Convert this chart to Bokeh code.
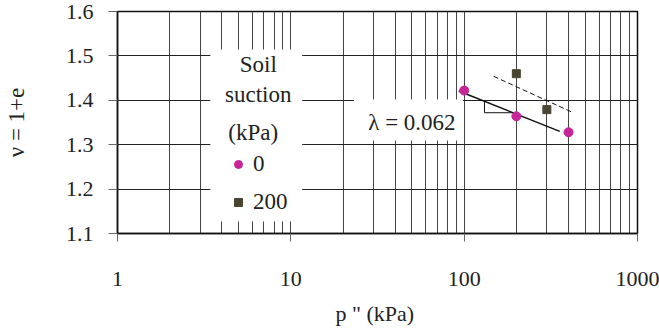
import math
from bokeh.plotting import figure
from bokeh.models import (FixedTicker, Label, Legend, LegendItem,
                          NumeralTickFormatter, PrintfTickFormatter)
from bokeh.embed import file_html
from bokeh.resources import INLINE

# ---- data ----
suction_0_p = [100, 200, 400]
suction_0_v = [1.422, 1.364, 1.328]
suction_200_p = [200, 300]
suction_200_v = [1.460, 1.379]
fit_0_p = [93, 356]
fit_0_v = [1.421, 1.330]
fit_200_p = [148, 426]
fit_200_v = [1.454, 1.372]
slope_p = [131, 131, 192]
slope_v = [1.396, 1.372, 1.372]
x_ticks = [1, 10, 100, 1000]
y_ticks = [1.1, 1.2, 1.3, 1.4, 1.5, 1.6]
series_names = ["0", "200"]
legend_title = ["Soil", "suction", "(kPa)"]
lambda_text = "λ = 0.062"
x_label = "p  \" (kPa)"
y_label = "ν = 1+e"

# ---- layout ----
W, H = 659, 330
L, R, T, B = 116, 22, 11, 97
FW, FH = W - L - R, H - T - B
XR = (1, 1000)
YR = (1.1, 1.6)
FONT = "Liberation Serif"
PINK = "#C62497"
OLIVE = "#4A4530"


def px_x(sx):
    span = math.log10(XR[1]) - math.log10(XR[0])
    return 10 ** (math.log10(XR[0]) + (sx - L) / FW * span)


def px_y(sy):
    return YR[1] - (sy - T) / FH * (YR[1] - YR[0])


p = figure(width=W, height=H, x_axis_type="log", x_range=XR, y_range=YR,
           min_border_left=L, min_border_right=R, min_border_top=T,
           min_border_bottom=B, toolbar_location=None, output_backend="svg")
p.background_fill_color = "white"
p.border_fill_color = "white"
p.outline_line_color = "#111111"
p.outline_line_width = 1.5

minor = [m * t for t in x_ticks[:-1] for m in range(2, 10)]
p.xaxis.ticker = FixedTicker(ticks=x_ticks, minor_ticks=minor)
p.yaxis.ticker = FixedTicker(ticks=y_ticks)
p.xaxis.formatter = NumeralTickFormatter(format="0")
p.yaxis.formatter = PrintfTickFormatter(format="%.1f")

for ax in (p.xaxis, p.yaxis):
    ax.axis_line_color = "#111111"
    ax.axis_line_width = 1.5
    ax.major_tick_line_color = "#666666"
    ax.major_tick_in = 0
    ax.minor_tick_in = 0
    ax.minor_tick_out = 0
    ax.major_label_text_font = FONT
    ax.major_label_text_font_size = "22px"
    ax.major_label_text_color = "#222222"
    ax.axis_label_text_font = FONT
    ax.axis_label_text_font_style = "normal"
    ax.axis_label_text_color = "#222222"
p.xaxis.major_tick_out = 8
p.yaxis.major_tick_out = 9
p.xaxis.major_label_standoff = 30
p.yaxis.major_label_standoff = 15

p.yaxis.axis_label = y_label
p.yaxis.axis_label_text_font_size = "23px"
p.yaxis.axis_label_standoff = 34

p.xaxis.axis_label = x_label
p.xaxis.axis_label_text_font_size = "22px"
p.xaxis.axis_label_standoff = 12

p.xgrid.grid_line_color = "#444444"
p.xgrid.minor_grid_line_color = "#444444"
p.ygrid.grid_line_color = "#222222"

# white backing boxes (legend panel and slope label)
p.quad(left=px_x(209), right=px_x(301), top=px_y(49), bottom=px_y(221),
       fill_color="white", line_color=None)
p.quad(left=px_x(353), right=px_x(462), top=px_y(99), bottom=px_y(140),
       fill_color="white", line_color=None)

# fitted lines and slope triangle
p.line(fit_0_p, fit_0_v, line_color="#111111", line_width=1.5)
p.line(fit_200_p, fit_200_v, line_color="#111111", line_width=1,
       line_dash="5 3")
p.line(slope_p, slope_v, line_color="#111111", line_width=1)

r0 = p.scatter(suction_0_p, suction_0_v, marker="circle", size=9,
               fill_color=PINK, line_color=PINK)
r1 = p.scatter(suction_200_p, suction_200_v, marker="square", size=8,
               fill_color=OLIVE, line_color=OLIVE)

legend = Legend(items=[LegendItem(label=series_names[0], renderers=[r0]),
                       LegendItem(label=series_names[1], renderers=[r1])],
                location=(111, 16), padding=0, spacing=8, margin=0,
                glyph_width=20, glyph_height=30, label_height=30,
                label_standoff=5, background_fill_alpha=0,
                border_line_color=None, label_text_font=FONT,
                label_text_font_size="23px", label_text_color="#222222")
p.add_layout(legend)

title_pos = [(257, 64), (257, 94), (252, 132)]
for txt, (sx, sy) in zip(legend_title, title_pos):
    p.add_layout(Label(x=px_x(sx), y=px_y(sy), text=txt, text_align="center",
                       text_baseline="middle", text_font=FONT,
                       text_font_size="23px", text_color="#222222"))

p.add_layout(Label(x=px_x(411), y=px_y(122), text=lambda_text,
                   text_align="center", text_baseline="middle",
                   text_font=FONT, text_font_size="23px",
                   text_color="#222222"))

open("out.html", "w").write(file_html(p, INLINE))
